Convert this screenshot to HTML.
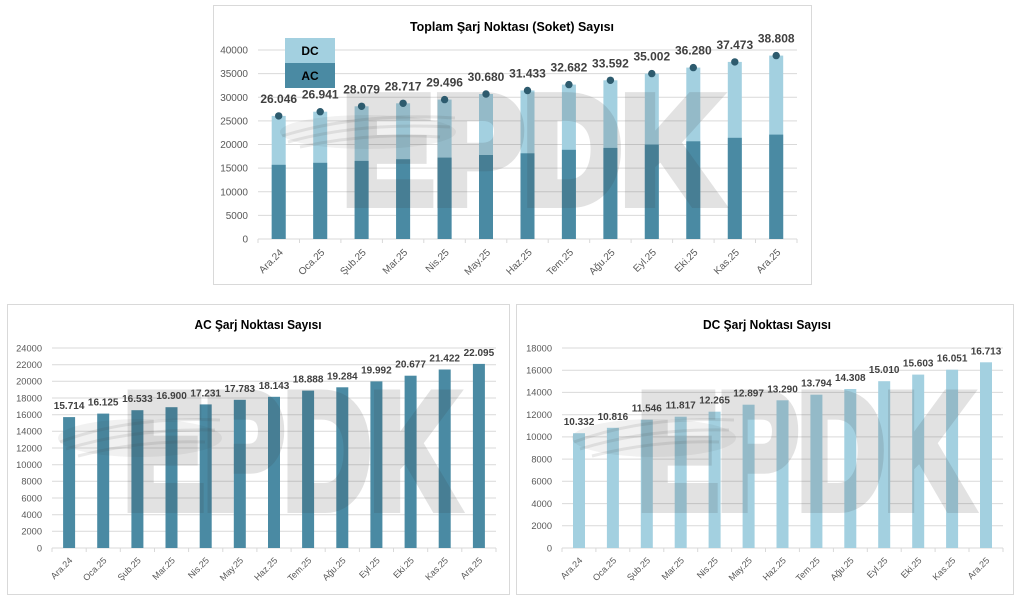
<!DOCTYPE html>
<html>
<head>
<meta charset="utf-8">
<style>
html,body{margin:0;padding:0;background:#fff;}
svg{display:block;}
text{font-family:"Liberation Sans",Arial,sans-serif;}
.yl{font-size:10px;fill:#595959;text-anchor:end;}
.yls{font-size:9.3px;fill:#595959;text-anchor:end;}
.xl{font-size:10px;fill:#595959;text-anchor:end;}
.xls{font-size:9px;fill:#595959;text-anchor:end;}
.vl{font-size:12px;font-weight:bold;fill:#404040;text-anchor:middle;}
.vls{font-size:10px;font-weight:bold;fill:#404040;text-anchor:middle;}
.tt{font-size:13px;font-weight:bold;fill:#000;text-anchor:middle;}
.wmg{opacity:0.14;}
.wm{font-weight:bold;fill:#3c3c3c;stroke:#3c3c3c;stroke-width:12;stroke-linejoin:miter;}
.g{stroke:#d9d9d9;stroke-width:1;}
.ac{fill:#4a8aa3;}
.dc{fill:#a3d0e0;}
</style>
</head>
<body>
<svg width="1024" height="604" viewBox="0 0 1024 604" xmlns="http://www.w3.org/2000/svg">
<rect x="0" y="0" width="1024" height="604" fill="#fff"/>

<!-- ================= TOP CHART ================= -->
<rect x="213.5" y="5.5" width="598" height="279" fill="#fff" stroke="#d9d9d9"/>
<text class="tt" x="512" y="31" textLength="204" lengthAdjust="spacingAndGlyphs">Toplam Şarj Noktası (Soket) Sayısı</text>
<g class="g">
<line x1="258" y1="50" x2="797" y2="50"/>
<line x1="258" y1="73.6" x2="797" y2="73.6"/>
<line x1="258" y1="97.3" x2="797" y2="97.3"/>
<line x1="258" y1="120.9" x2="797" y2="120.9"/>
<line x1="258" y1="144.5" x2="797" y2="144.5"/>
<line x1="258" y1="168.1" x2="797" y2="168.1"/>
<line x1="258" y1="191.8" x2="797" y2="191.8"/>
<line x1="258" y1="215.4" x2="797" y2="215.4"/>
<line x1="258" y1="239" x2="797" y2="239"/>
<line x1="258" y1="239" x2="258" y2="243"/>
<line x1="299.5" y1="239" x2="299.5" y2="243"/>
<line x1="340.9" y1="239" x2="340.9" y2="243"/>
<line x1="382.4" y1="239" x2="382.4" y2="243"/>
<line x1="423.8" y1="239" x2="423.8" y2="243"/>
<line x1="465.3" y1="239" x2="465.3" y2="243"/>
<line x1="506.8" y1="239" x2="506.8" y2="243"/>
<line x1="548.2" y1="239" x2="548.2" y2="243"/>
<line x1="589.7" y1="239" x2="589.7" y2="243"/>
<line x1="631.1" y1="239" x2="631.1" y2="243"/>
<line x1="672.6" y1="239" x2="672.6" y2="243"/>
<line x1="714.1" y1="239" x2="714.1" y2="243"/>
<line x1="755.5" y1="239" x2="755.5" y2="243"/>
<line x1="797" y1="239" x2="797" y2="243"/>
</g>
<text class="yl" x="248" y="53.5">40000</text>
<text class="yl" x="248" y="77.1">35000</text>
<text class="yl" x="248" y="100.8">30000</text>
<text class="yl" x="248" y="124.4">25000</text>
<text class="yl" x="248" y="148">20000</text>
<text class="yl" x="248" y="171.6">15000</text>
<text class="yl" x="248" y="195.3">10000</text>
<text class="yl" x="248" y="218.9">5000</text>
<text class="yl" x="248" y="242.5">0</text>

<g class="dc">
<rect x="271.7" y="115.9" width="14" height="123.1"/>
<rect x="313.2" y="111.7" width="14" height="127.3"/>
<rect x="354.6" y="106.3" width="14" height="132.7"/>
<rect x="396.1" y="103.3" width="14" height="135.7"/>
<rect x="437.6" y="99.6" width="14" height="139.4"/>
<rect x="479.0" y="94.0" width="14" height="145.0"/>
<rect x="520.5" y="90.5" width="14" height="148.5"/>
<rect x="561.9" y="84.6" width="14" height="154.4"/>
<rect x="603.4" y="80.3" width="14" height="158.7"/>
<rect x="644.8" y="73.6" width="14" height="165.4"/>
<rect x="686.3" y="67.6" width="14" height="171.4"/>
<rect x="727.8" y="61.9" width="14" height="177.1"/>
<rect x="769.2" y="55.6" width="14" height="183.4"/>
</g>
<g class="ac">
<rect x="271.7" y="164.8" width="14" height="74.2"/>
<rect x="313.2" y="162.8" width="14" height="76.2"/>
<rect x="354.6" y="160.9" width="14" height="78.1"/>
<rect x="396.1" y="159.2" width="14" height="79.8"/>
<rect x="437.6" y="157.6" width="14" height="81.4"/>
<rect x="479.0" y="155.0" width="14" height="84.0"/>
<rect x="520.5" y="153.3" width="14" height="85.7"/>
<rect x="561.9" y="149.8" width="14" height="89.2"/>
<rect x="603.4" y="147.9" width="14" height="91.1"/>
<rect x="644.8" y="144.5" width="14" height="94.5"/>
<rect x="686.3" y="141.3" width="14" height="97.7"/>
<rect x="727.8" y="137.8" width="14" height="101.2"/>
<rect x="769.2" y="134.6" width="14" height="104.4"/>
</g>

<!-- watermark top -->
<ellipse cx="368" cy="132" rx="88" ry="17" fill="#3c3c3c" fill-opacity="0.07"/>
<g fill="none" stroke="#3c3c3c" stroke-opacity="0.11" stroke-width="3">
<path d="M282,136 Q360,112 455,118"/>
<path d="M288,142 Q360,122 450,127"/>
<path d="M300,147 Q370,132 440,137"/>
</g>
<g class="wmg"><text class="wm" x="343" y="202" font-size="151" textLength="376" lengthAdjust="spacingAndGlyphs">EPDK</text></g>

<g fill="#2d5b6e">
<circle cx="278.7" cy="115.9" r="3.7"/>
<circle cx="320.2" cy="111.7" r="3.7"/>
<circle cx="361.6" cy="106.3" r="3.7"/>
<circle cx="403.1" cy="103.3" r="3.7"/>
<circle cx="444.6" cy="99.6" r="3.7"/>
<circle cx="486.0" cy="94.0" r="3.7"/>
<circle cx="527.5" cy="90.5" r="3.7"/>
<circle cx="568.9" cy="84.6" r="3.7"/>
<circle cx="610.4" cy="80.3" r="3.7"/>
<circle cx="651.8" cy="73.6" r="3.7"/>
<circle cx="693.3" cy="67.6" r="3.7"/>
<circle cx="734.8" cy="61.9" r="3.7"/>
<circle cx="776.2" cy="55.6" r="3.7"/>
</g>
<text class="vl" x="278.7" y="102.9">26.046</text>
<text class="vl" x="320.2" y="98.7">26.941</text>
<text class="vl" x="361.6" y="93.3">28.079</text>
<text class="vl" x="403.1" y="90.3">28.717</text>
<text class="vl" x="444.6" y="86.6">29.496</text>
<text class="vl" x="486.0" y="81.0">30.680</text>
<text class="vl" x="527.5" y="77.5">31.433</text>
<text class="vl" x="568.9" y="71.6">32.682</text>
<text class="vl" x="610.4" y="67.3">33.592</text>
<text class="vl" x="651.8" y="60.6">35.002</text>
<text class="vl" x="693.3" y="54.6">36.280</text>
<text class="vl" x="734.8" y="48.9">37.473</text>
<text class="vl" x="776.2" y="42.6">38.808</text>

<!-- legend -->
<rect x="285" y="38" width="50" height="25" class="dc"/>
<rect x="285" y="63" width="50" height="25" class="ac"/>
<text x="310" y="55" font-size="12" font-weight="bold" fill="#000" text-anchor="middle">DC</text>
<text x="310" y="80" font-size="12" font-weight="bold" fill="#000" text-anchor="middle">AC</text>

<text class="xl" transform="translate(283.7,253) rotate(-45)">Ara.24</text>
<text class="xl" transform="translate(325.2,253) rotate(-45)">Oca.25</text>
<text class="xl" transform="translate(366.6,253) rotate(-45)">Şub.25</text>
<text class="xl" transform="translate(408.1,253) rotate(-45)">Mar.25</text>
<text class="xl" transform="translate(449.6,253) rotate(-45)">Nis.25</text>
<text class="xl" transform="translate(491.0,253) rotate(-45)">May.25</text>
<text class="xl" transform="translate(532.5,253) rotate(-45)">Haz.25</text>
<text class="xl" transform="translate(573.9,253) rotate(-45)">Tem.25</text>
<text class="xl" transform="translate(615.4,253) rotate(-45)">Ağu.25</text>
<text class="xl" transform="translate(656.8,253) rotate(-45)">Eyl.25</text>
<text class="xl" transform="translate(698.3,253) rotate(-45)">Eki.25</text>
<text class="xl" transform="translate(739.8,253) rotate(-45)">Kas.25</text>
<text class="xl" transform="translate(781.2,253) rotate(-45)">Ara.25</text>

<!-- ================= AC CHART ================= -->
<rect x="7.5" y="304.5" width="502" height="290" fill="#fff" stroke="#d9d9d9"/>
<text class="tt" x="258" y="329" textLength="127" lengthAdjust="spacingAndGlyphs">AC Şarj Noktası Sayısı</text>
<g class="g">
<line x1="52" y1="348" x2="496" y2="348"/>
<line x1="52" y1="364.7" x2="496" y2="364.7"/>
<line x1="52" y1="381.3" x2="496" y2="381.3"/>
<line x1="52" y1="398" x2="496" y2="398"/>
<line x1="52" y1="414.7" x2="496" y2="414.7"/>
<line x1="52" y1="431.3" x2="496" y2="431.3"/>
<line x1="52" y1="448" x2="496" y2="448"/>
<line x1="52" y1="464.7" x2="496" y2="464.7"/>
<line x1="52" y1="481.3" x2="496" y2="481.3"/>
<line x1="52" y1="498" x2="496" y2="498"/>
<line x1="52" y1="514.7" x2="496" y2="514.7"/>
<line x1="52" y1="531.3" x2="496" y2="531.3"/>
<line x1="52" y1="548" x2="496" y2="548"/>
<line x1="52" y1="548" x2="52" y2="552"/>
<line x1="86.2" y1="548" x2="86.2" y2="552"/>
<line x1="120.3" y1="548" x2="120.3" y2="552"/>
<line x1="154.5" y1="548" x2="154.5" y2="552"/>
<line x1="188.6" y1="548" x2="188.6" y2="552"/>
<line x1="222.8" y1="548" x2="222.8" y2="552"/>
<line x1="256.9" y1="548" x2="256.9" y2="552"/>
<line x1="291.1" y1="548" x2="291.1" y2="552"/>
<line x1="325.2" y1="548" x2="325.2" y2="552"/>
<line x1="359.4" y1="548" x2="359.4" y2="552"/>
<line x1="393.5" y1="548" x2="393.5" y2="552"/>
<line x1="427.7" y1="548" x2="427.7" y2="552"/>
<line x1="461.8" y1="548" x2="461.8" y2="552"/>
<line x1="496" y1="548" x2="496" y2="552"/>
</g>
<text class="yls" x="42" y="351.3">24000</text>
<text class="yls" x="42" y="368">22000</text>
<text class="yls" x="42" y="384.6">20000</text>
<text class="yls" x="42" y="401.3">18000</text>
<text class="yls" x="42" y="418">16000</text>
<text class="yls" x="42" y="434.6">14000</text>
<text class="yls" x="42" y="451.3">12000</text>
<text class="yls" x="42" y="468">10000</text>
<text class="yls" x="42" y="484.6">8000</text>
<text class="yls" x="42" y="501.3">6000</text>
<text class="yls" x="42" y="518">4000</text>
<text class="yls" x="42" y="534.6">2000</text>
<text class="yls" x="42" y="551.3">0</text>
<g class="ac">
<rect x="63.1" y="417.1" width="12" height="130.9"/>
<rect x="97.2" y="413.6" width="12" height="134.4"/>
<rect x="131.4" y="410.2" width="12" height="137.8"/>
<rect x="165.5" y="407.2" width="12" height="140.8"/>
<rect x="199.7" y="404.4" width="12" height="143.6"/>
<rect x="233.8" y="399.8" width="12" height="148.2"/>
<rect x="268.0" y="396.8" width="12" height="151.2"/>
<rect x="302.1" y="390.6" width="12" height="157.4"/>
<rect x="336.3" y="387.3" width="12" height="160.7"/>
<rect x="370.4" y="381.4" width="12" height="166.6"/>
<rect x="404.6" y="375.7" width="12" height="172.3"/>
<rect x="438.7" y="369.5" width="12" height="178.5"/>
<rect x="472.9" y="363.9" width="12" height="184.1"/>
</g>
<ellipse cx="140" cy="438" rx="82" ry="19" fill="#3c3c3c" fill-opacity="0.07"/>
<g fill="none" stroke="#3c3c3c" stroke-opacity="0.11" stroke-width="3">
<path d="M60,442 Q130,416 220,420"/>
<path d="M66,449 Q135,428 215,430"/>
<path d="M78,456 Q140,440 205,442"/>
</g>
<g class="wmg"><text class="wm" x="124" y="507" font-size="162" textLength="333" lengthAdjust="spacingAndGlyphs">EPDK</text></g>
<text class="vls" x="69.1" y="409.1">15.714</text>
<text class="vls" x="103.2" y="405.6">16.125</text>
<text class="vls" x="137.4" y="402.2">16.533</text>
<text class="vls" x="171.5" y="399.2">16.900</text>
<text class="vls" x="205.7" y="396.4">17.231</text>
<text class="vls" x="239.8" y="391.8">17.783</text>
<text class="vls" x="274.0" y="388.8">18.143</text>
<text class="vls" x="308.1" y="382.6">18.888</text>
<text class="vls" x="342.3" y="379.3">19.284</text>
<text class="vls" x="376.4" y="373.4">19.992</text>
<text class="vls" x="410.6" y="367.7">20.677</text>
<text class="vls" x="444.7" y="361.5">21.422</text>
<text class="vls" x="478.9" y="355.9">22.095</text>
<text class="xls" transform="translate(73.1,561) rotate(-45)">Ara.24</text>
<text class="xls" transform="translate(107.2,561) rotate(-45)">Oca.25</text>
<text class="xls" transform="translate(141.4,561) rotate(-45)">Şub.25</text>
<text class="xls" transform="translate(175.5,561) rotate(-45)">Mar.25</text>
<text class="xls" transform="translate(209.7,561) rotate(-45)">Nis.25</text>
<text class="xls" transform="translate(243.8,561) rotate(-45)">May.25</text>
<text class="xls" transform="translate(278.0,561) rotate(-45)">Haz.25</text>
<text class="xls" transform="translate(312.1,561) rotate(-45)">Tem.25</text>
<text class="xls" transform="translate(346.3,561) rotate(-45)">Ağu.25</text>
<text class="xls" transform="translate(380.4,561) rotate(-45)">Eyl.25</text>
<text class="xls" transform="translate(414.6,561) rotate(-45)">Eki.25</text>
<text class="xls" transform="translate(448.7,561) rotate(-45)">Kas.25</text>
<text class="xls" transform="translate(482.9,561) rotate(-45)">Ara.25</text>

<!-- ================= DC CHART ================= -->
<rect x="516.5" y="304.5" width="497" height="290" fill="#fff" stroke="#d9d9d9"/>
<text class="tt" x="767" y="329" textLength="128" lengthAdjust="spacingAndGlyphs">DC Şarj Noktası Sayısı</text>
<g class="g">
<line x1="562" y1="348" x2="1003" y2="348"/>
<line x1="562" y1="370.2" x2="1003" y2="370.2"/>
<line x1="562" y1="392.4" x2="1003" y2="392.4"/>
<line x1="562" y1="414.7" x2="1003" y2="414.7"/>
<line x1="562" y1="436.9" x2="1003" y2="436.9"/>
<line x1="562" y1="459.1" x2="1003" y2="459.1"/>
<line x1="562" y1="481.3" x2="1003" y2="481.3"/>
<line x1="562" y1="503.6" x2="1003" y2="503.6"/>
<line x1="562" y1="525.8" x2="1003" y2="525.8"/>
<line x1="562" y1="548" x2="1003" y2="548"/>
<line x1="562" y1="548" x2="562" y2="552"/>
<line x1="595.9" y1="548" x2="595.9" y2="552"/>
<line x1="629.8" y1="548" x2="629.8" y2="552"/>
<line x1="663.8" y1="548" x2="663.8" y2="552"/>
<line x1="697.7" y1="548" x2="697.7" y2="552"/>
<line x1="731.6" y1="548" x2="731.6" y2="552"/>
<line x1="765.5" y1="548" x2="765.5" y2="552"/>
<line x1="799.4" y1="548" x2="799.4" y2="552"/>
<line x1="833.4" y1="548" x2="833.4" y2="552"/>
<line x1="867.3" y1="548" x2="867.3" y2="552"/>
<line x1="901.2" y1="548" x2="901.2" y2="552"/>
<line x1="935.1" y1="548" x2="935.1" y2="552"/>
<line x1="969.0" y1="548" x2="969.0" y2="552"/>
<line x1="1003" y1="548" x2="1003" y2="552"/>
</g>
<text class="yls" x="552" y="351.3">18000</text>
<text class="yls" x="552" y="373.5">16000</text>
<text class="yls" x="552" y="395.7">14000</text>
<text class="yls" x="552" y="418">12000</text>
<text class="yls" x="552" y="440.2">10000</text>
<text class="yls" x="552" y="462.4">8000</text>
<text class="yls" x="552" y="484.6">6000</text>
<text class="yls" x="552" y="506.9">4000</text>
<text class="yls" x="552" y="529.1">2000</text>
<text class="yls" x="552" y="551.3">0</text>
<g class="dc">
<rect x="573.0" y="433.2" width="12" height="114.8"/>
<rect x="606.9" y="427.8" width="12" height="120.2"/>
<rect x="640.8" y="419.7" width="12" height="128.3"/>
<rect x="674.7" y="416.7" width="12" height="131.3"/>
<rect x="708.6" y="411.7" width="12" height="136.3"/>
<rect x="742.6" y="404.7" width="12" height="143.3"/>
<rect x="776.5" y="400.3" width="12" height="147.7"/>
<rect x="810.4" y="394.7" width="12" height="153.3"/>
<rect x="844.3" y="389.0" width="12" height="159.0"/>
<rect x="878.2" y="381.2" width="12" height="166.8"/>
<rect x="912.2" y="374.6" width="12" height="173.4"/>
<rect x="946.1" y="369.7" width="12" height="178.3"/>
<rect x="980.0" y="362.3" width="12" height="185.7"/>
</g>
<ellipse cx="654" cy="438" rx="82" ry="19" fill="#3c3c3c" fill-opacity="0.07"/>
<g fill="none" stroke="#3c3c3c" stroke-opacity="0.11" stroke-width="3">
<path d="M574,442 Q644,416 734,420"/>
<path d="M580,449 Q649,428 729,430"/>
<path d="M592,456 Q654,440 719,442"/>
</g>
<g class="wmg"><text class="wm" x="638" y="507" font-size="162" textLength="333" lengthAdjust="spacingAndGlyphs">EPDK</text></g>
<text class="vls" x="579.0" y="425.2">10.332</text>
<text class="vls" x="612.9" y="419.8">10.816</text>
<text class="vls" x="646.8" y="411.7">11.546</text>
<text class="vls" x="680.7" y="408.7">11.817</text>
<text class="vls" x="714.6" y="403.7">12.265</text>
<text class="vls" x="748.6" y="396.7">12.897</text>
<text class="vls" x="782.5" y="392.3">13.290</text>
<text class="vls" x="816.4" y="386.7">13.794</text>
<text class="vls" x="850.3" y="381.0">14.308</text>
<text class="vls" x="884.2" y="373.2">15.010</text>
<text class="vls" x="918.2" y="366.6">15.603</text>
<text class="vls" x="952.1" y="361.7">16.051</text>
<text class="vls" x="986.0" y="354.3">16.713</text>
<text class="xls" transform="translate(583.0,561) rotate(-45)">Ara.24</text>
<text class="xls" transform="translate(616.9,561) rotate(-45)">Oca.25</text>
<text class="xls" transform="translate(650.8,561) rotate(-45)">Şub.25</text>
<text class="xls" transform="translate(684.7,561) rotate(-45)">Mar.25</text>
<text class="xls" transform="translate(718.6,561) rotate(-45)">Nis.25</text>
<text class="xls" transform="translate(752.6,561) rotate(-45)">May.25</text>
<text class="xls" transform="translate(786.5,561) rotate(-45)">Haz.25</text>
<text class="xls" transform="translate(820.4,561) rotate(-45)">Tem.25</text>
<text class="xls" transform="translate(854.3,561) rotate(-45)">Ağu.25</text>
<text class="xls" transform="translate(888.2,561) rotate(-45)">Eyl.25</text>
<text class="xls" transform="translate(922.2,561) rotate(-45)">Eki.25</text>
<text class="xls" transform="translate(956.1,561) rotate(-45)">Kas.25</text>
<text class="xls" transform="translate(990.0,561) rotate(-45)">Ara.25</text>
</svg>
</body>
</html>
